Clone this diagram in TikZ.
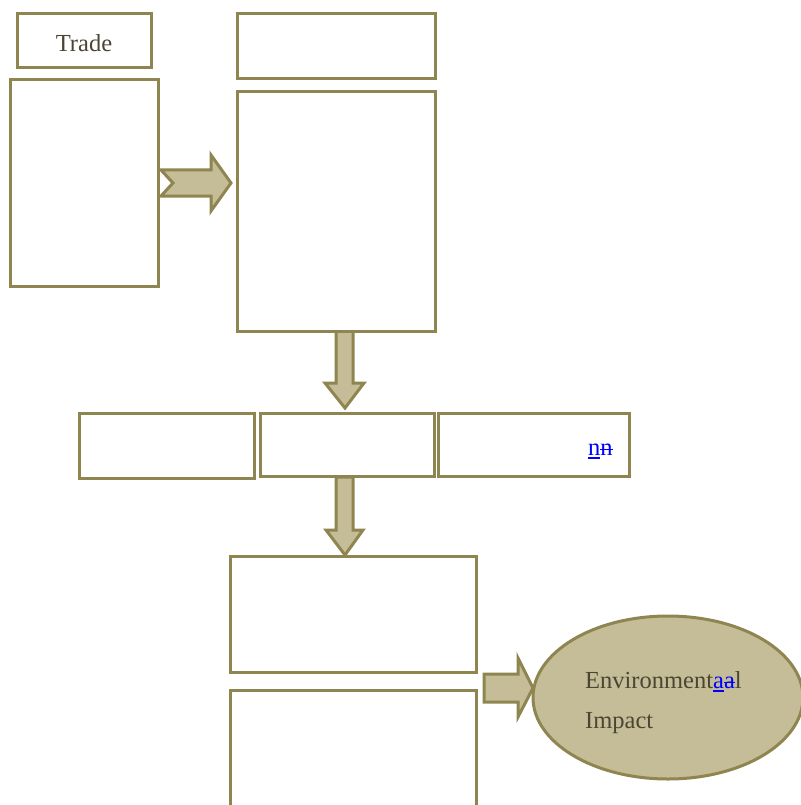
\documentclass[tikz,border=0pt]{standalone}
\usepackage{fontspec}
\setmainfont{Liberation Serif}
\usetikzlibrary{shapes.geometric}
\definecolor{olive}{RGB}{143,133,80}
\definecolor{olivefill}{RGB}{197,189,152}
\definecolor{txt}{RGB}{75,70,51}
\definecolor{edit}{RGB}{0,0,255}
\newcommand\myul[1]{{\setbox0\hbox{#1}\rlap{\rule[-4pt]{\wd0}{2pt}}\box0}}
\newcommand\myso[1]{{\setbox0\hbox{#1}\rlap{\rule[5pt]{\wd0}{1.5pt}}\box0}}
\tikzset{
  box/.style={draw=olive, line width=3pt, fill=white, rectangle, inner sep=0pt},
  blockarrow/.style={draw=olive, line width=3pt, fill=olivefill, line join=miter},
  label/.style={text=txt, font=\fontsize{24.5}{29}\selectfont, inner sep=0pt},
  bubble/.style={draw=olive, line width=3pt, fill=olivefill, ellipse, inner sep=0pt}
}
\begin{document}
\begin{tikzpicture}[x=1pt,y=-1pt]
\useasboundingbox (0,0) rectangle (800,805);
% block arrows
\draw[blockarrow] (161,170) -- (211,170) -- (211,155) -- (231,183) -- (211,211) -- (211,196) -- (161,196) -- (173,183) -- cycle;
\draw[blockarrow] (336,331) -- (336,383) -- (325,383) -- (345,408) -- (364,383) -- (353,383) -- (353,331) -- cycle;
\draw[blockarrow] (336,477) -- (336,530) -- (326,530) -- (345,555) -- (363,530) -- (353,530) -- (353,477) -- cycle;
\draw[blockarrow] (484,674) -- (518,674) -- (518,658) -- (533,688) -- (518,717) -- (518,702) -- (484,702) -- cycle;
% boxes
\node[box, minimum width=134, minimum height=54] (trade) at (84,41) {};
\node[label, anchor=base] at (84,52) {Trade};
\node[box, minimum width=148, minimum height=206] (left) at (84,183) {};
\node[box, minimum width=198, minimum height=65] (topright) at (336,46.5) {};
\node[box, minimum width=198, minimum height=239] (center) at (336,211.5) {};
\node[box, minimum width=175, minimum height=65] (r1) at (166.5,445.5) {};
\node[box, minimum width=174, minimum height=63] (r2) at (347,444.5) {};
\node[box, minimum width=191, minimum height=63] (r3) at (533.5,444.5) {};
\node[label, anchor=base west] (nn) at (588,455) {\textcolor{edit}{\myul{n}\myso{n}}};
\node[box, minimum width=246, minimum height=116] (b1) at (353,614) {};
\node[box, minimum width=246, minimum height=124] (b2) at (353,752) {};
% ellipse
\node[bubble, minimum width=270, minimum height=163] (impact) at (668,697.5) {};
\node[label, anchor=base west] (env) at (585,688) {Environment\textcolor{edit}{\myul{a}\myso{a}}l};
\node[label, anchor=base west] (imp) at (585,728) {Impact};
\end{tikzpicture}
\end{document}
